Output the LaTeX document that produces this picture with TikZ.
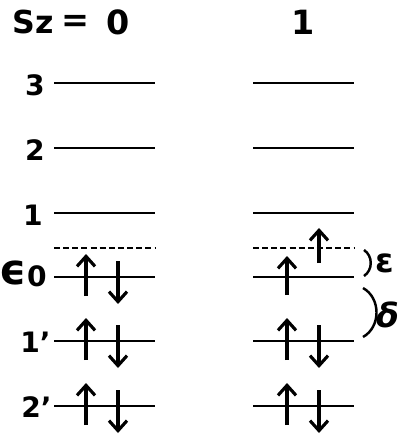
\documentclass[tikz,border=0pt]{standalone}
\usepackage{fontspec}
\setmainfont{DejaVu Sans}
\usetikzlibrary{arrows.meta,positioning}
\tikzset{
  lv line/.style={line width=1.6pt},
  lv dash/.style={line width=1.2pt, dash pattern=on 3.4pt off 1.8pt},
  spin/.style={-{Straight Barb[length=2mm,width=3.6mm]}, line width=1.8pt},
  lv label/.style={font=\fontsize{16}{18}\selectfont\bfseries, anchor=east, inner sep=0pt},
  sz label/.style={font=\fontsize{19}{21}\selectfont\bfseries, inner sep=0pt},
  gap brace/.style={line width=1.4pt},
  gap label/.style={font=\fontsize{19}{21}\selectfont\bfseries, inner sep=0pt}
}
\begin{document}
\begin{tikzpicture}[x=0.02cm, y=-0.02cm]
  \useasboundingbox (0,0) rectangle (406,438);
  % column headings
  \node[sz label, font=\fontsize{18}{20}\selectfont\bfseries] (szs) at (33,22) {Sz};
  \node[sz label] (szeq) at (75,23) {=};
  \node[sz label] (szzero) at (118,22) {0};
  \node[sz label] (szone) at (303,22) {1};
  % levels, both columns
  \foreach \y in {83,148,213,277,341,406} {
    \draw[lv line] (54,\y) -- (155,\y);
    \draw[lv line] (253,\y) -- (354,\y);
  }
  \draw[lv dash] (54,248) -- (155,248);
  \draw[lv dash] (253,248) -- (354,248);
  % level names
  \node[lv label] (lvthree) at (45,85) {3};
  \node[lv label] (lvtwo) at (45,150) {2};
  \node[lv label] (lvone) at (43,215) {1};
  \node[lv label] (lvzero) at (47,274) {{\fontsize{24}{26}\selectfont ϵ}\raisebox{-1pt}{\fontsize{16}{18}\selectfont 0}};
  \node[lv label] (lvonep) at (51,342) {1’};
  \node[lv label] (lvtwop) at (52,407) {2’};
  % spins, Sz = 0
  \foreach \y in {277,341,406} {
    \draw[spin] (86,\y) ++(0,19) -- ++(0,-42);
    \draw[spin] (118,\y) ++(0,-16) -- ++(0,43);
  }
  % spins, Sz = 1
  \draw[spin] (287,277) ++(0,18) -- ++(0,-39);
  \draw[spin] (319,248) ++(0,15) -- ++(0,-35);
  \foreach \y in {341,406} {
    \draw[spin] (287,\y) ++(0,19) -- ++(0,-42);
    \draw[spin] (319,\y) ++(0,-16) -- ++(0,43);
  }
  % gaps
  \draw[gap brace] (364,250) .. controls (373,256) and (373,270) .. (364,276);
  \draw[gap brace] (363,288) .. controls (381,298) and (381,327) .. (363,337);
  \node[gap label] (gapeps) at (385,263) {ε};
  \node[gap label] (gapdelta) at (388,315) {\itshape δ};
\end{tikzpicture}
\end{document}
